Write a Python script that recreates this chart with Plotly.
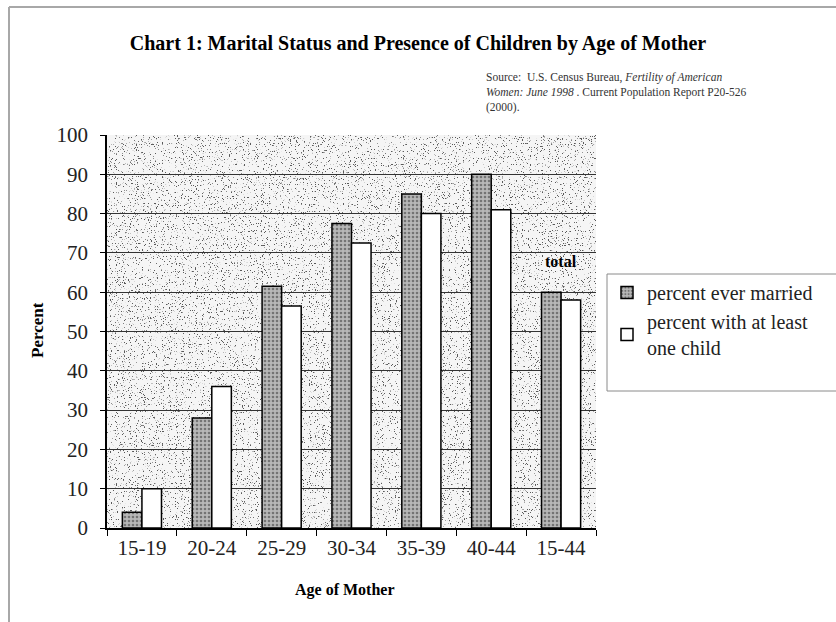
import base64
import plotly.graph_objects as go

# Age groups of mothers and the two measured percentages
age_groups = ["15-19", "20-24", "25-29", "30-34", "35-39", "40-44", "15-44"]
ever_married = [4, 28, 61.5, 77.5, 85, 90, 60]
with_child = [10, 36, 56.5, 72.5, 80, 81, 58]
y_ticks = [0, 10, 20, 30, 40, 50, 60, 70, 80, 90, 100]

W, H = 836, 622
M_L, M_R, M_T, M_B = 107, 240, 135, 94
PW, PH = W - M_L - M_R, H - M_T - M_B

SERIF = "Liberation Serif"

# Speckled backdrop for the plotting area, made with an SVG turbulence filter
svg = (
    f'<svg xmlns="http://www.w3.org/2000/svg" width="{PW}" height="{PH}" viewBox="0 0 {PW} {PH}">'
    '<defs><filter id="n" x="0" y="0" width="100%" height="100%" color-interpolation-filters="sRGB">'
    '<feTurbulence type="fractalNoise" baseFrequency="0.85" numOctaves="2" seed="7" result="t"/>'
    '<feColorMatrix in="t" type="matrix" values="0 0 0 0 0.35  0 0 0 0 0.35  0 0 0 0 0.35  14 0 0 0 -8.9"/>'
    '</filter></defs>'
    f'<rect width="{PW}" height="{PH}" fill="#f5f5f5"/>'
    f'<rect width="{PW}" height="{PH}" filter="url(#n)"/></svg>'
)
bg_uri = "data:image/svg+xml;base64," + base64.b64encode(svg.encode()).decode()

fig = go.Figure()
fig.add_trace(go.Bar(
    x=age_groups, y=ever_married, name="percent ever married",
    marker=dict(color="#b0b0b0", line=dict(color="black", width=1.5),
                pattern=dict(shape=".", fgcolor="#303030", bgcolor="#b8b8b8", size=4, solidity=0.35)),
    legendgroup="a",
))
fig.add_trace(go.Bar(
    x=age_groups, y=with_child, name="percent with at least<br>one child",
    marker=dict(color="white", line=dict(color="black", width=1.5)),
    legendgroup="b",
))

fig.add_layout_image(dict(
    source=bg_uri, xref="paper", yref="paper", x=0, y=1, sizex=1, sizey=1,
    xanchor="left", yanchor="top", sizing="stretch", layer="below",
))

def px_x(px):
    return (px - M_L) / PW

def px_y(py):
    return (H - M_B - py) / PH

fig.update_layout(
    width=W, height=H, autosize=False,
    margin=dict(l=M_L, r=M_R, t=M_T, b=M_B),
    paper_bgcolor="white", plot_bgcolor="rgba(0,0,0,0)",
    barmode="group", bargap=0.44, bargroupgap=0,
    font=dict(family=SERIF, color="black"),
    title=dict(
        text="<b>Chart 1: Marital Status and Presence of Children by Age of Mother</b>",
        x=0.5, xref="container", xanchor="center",
        y=1 - 43 / H, yref="container", yanchor="middle",
        font=dict(family=SERIF, size=20, color="black"),
    ),
    xaxis=dict(
        showline=True, linecolor="black", linewidth=1.5,
        ticks="outside", ticklen=6, tickcolor="black", tickson="boundaries",
        tickfont=dict(family=SERIF, size=21, color="#222"),
        showgrid=False,
    ),
    yaxis=dict(
        range=[0, 100], tickvals=y_ticks, showline=True, linecolor="black", linewidth=1.5,
        ticks="outside", ticklen=5, tickcolor="black", ticklabelstandoff=8,
        tickfont=dict(family=SERIF, size=21, color="#222"),
        showgrid=True, gridcolor="#333333", gridwidth=1, zeroline=False,
    ),
    legend=dict(
        x=px_x(607), y=px_y(273), xanchor="left", yanchor="top",
        borderwidth=0, bgcolor="rgba(0,0,0,0)",
        font=dict(family=SERIF, size=20, color="#222"),
        tracegroupgap=12, traceorder="normal",
    ),
    showlegend=True,
)

# Legend frame
fig.add_shape(type="rect", xref="paper", yref="paper",
              x0=px_x(607), x1=px_x(860), y0=px_y(391), y1=px_y(274),
              line=dict(color="#8a8a8a", width=1), fillcolor="white", layer="below")

fig.add_annotation(
    x=px_x(484), y=px_y(69), xref="paper", yref="paper", xanchor="left", yanchor="top",
    align="left", showarrow=False,
    text="Source:  U.S. Census Bureau, <i>Fertility of American</i><br><i>Women: June 1998</i> . Current Population Report P20-526<br>(2000).",
    font=dict(family=SERIF, size=11.5, color="#333"),
)
fig.add_annotation(
    x=px_x(37), y=px_y(330), xref="paper", yref="paper", xanchor="center", yanchor="middle",
    textangle=-90, showarrow=False,
    text="<b>Percent</b>", font=dict(family=SERIF, size=17, color="black"),
)
fig.add_annotation(
    x=px_x(345), y=px_y(590), xref="paper", yref="paper", xanchor="center", yanchor="middle",
    showarrow=False,
    text="<b>Age of Mother</b>", font=dict(family=SERIF, size=16, color="black"),
)
fig.add_annotation(
    x="15-44", y=67.7, xref="x", yref="y", xanchor="center", yanchor="middle", showarrow=False,
    text="<b>total</b>", font=dict(family=SERIF, size=16, color="black"),
)

# Outer chart frame (left and top edges)
fig.add_shape(type="line", xref="paper", yref="paper",
              x0=px_x(9), x1=px_x(9), y0=px_y(630), y1=px_y(7),
              line=dict(color="#a8a8a8", width=2))
fig.add_shape(type="line", xref="paper", yref="paper",
              x0=px_x(9), x1=px_x(860), y0=px_y(7), y1=px_y(7),
              line=dict(color="#a8a8a8", width=2))

fig.write_html("out.html")
